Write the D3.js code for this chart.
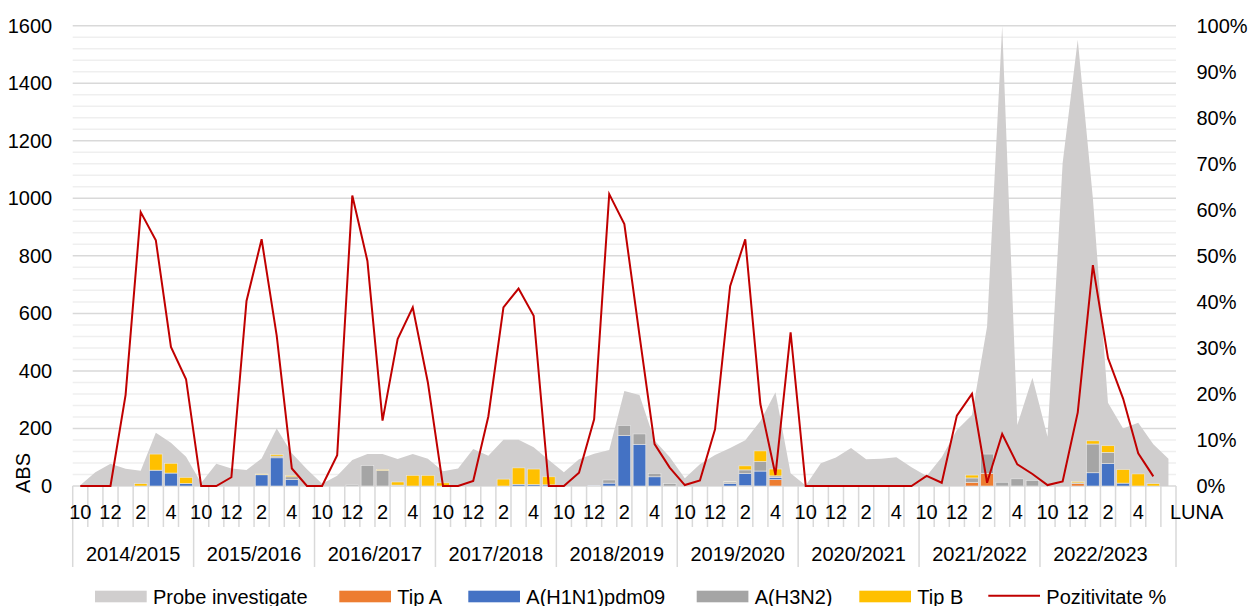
<!DOCTYPE html>
<html>
<head>
<meta charset="utf-8">
<script src="https://cdn.jsdelivr.net/npm/d3@7"></script>
<style>
body { margin: 0; background: #fff; }
svg text { font-family: 'Liberation Sans', Arial, sans-serif; font-size: 20px; fill: #000; }
</style>
</head>
<body>
<svg id="chart" width="1251" height="606"></svg>
<script>
'use strict';

var seasons = ['2014/2015', '2015/2016', '2016/2017', '2017/2018', '2018/2019',
    '2019/2020', '2020/2021', '2021/2022', '2022/2023'];
var monthLabels = ['10', '', '12', '', '2', '', '4', ''];
var lastLabel = 'LUNA';

// one value per month (10..5) for each season, plus one trailing column
var probe = [
    3, 48, 77, 60, 53, 185, 150, 102,
    10, 77, 61, 56, 96, 200, 114, 58,
    8, 36, 90, 111, 111, 94, 111, 95,
    51, 61, 129, 105, 161, 161, 135, 90,
    48, 93, 112, 125, 330, 316, 158, 101,
    27, 76, 108, 132, 159, 226, 326, 44,
    2, 79, 99, 132, 93, 95, 100, 65,
    35, 100, 195, 247, 554, 1600, 212, 376,
    171, 1123, 1551, 1000, 289, 200, 220, 145,
    95
];
var tipA = [
    0, 0, 0, 0, 0, 0, 0, 0,
    0, 0, 0, 0, 0, 0, 0, 0,
    0, 0, 0, 0, 0, 0, 0, 0,
    0, 0, 0, 0, 0, 0, 0, 0,
    0, 0, 0, 0, 0, 0, 0, 0,
    0, 0, 0, 0, 1, 0, 22, 0,
    0, 0, 0, 0, 0, 0, 0, 0,
    0, 0, 0, 13, 44, 0, 0, 0,
    0, 0, 8, 0, 0, 0, 0, 0
];
var h1n1 = [
    0, 0, 0, 0, 0, 55, 45, 9,
    0, 0, 0, 0, 39, 98, 23, 0,
    0, 0, 0, 0, 0, 0, 0, 0,
    0, 0, 0, 0, 0, 6, 5, 4,
    0, 0, 2, 10, 175, 145, 32, 0,
    0, 0, 0, 8, 42, 52, 8, 0,
    0, 0, 0, 0, 0, 0, 0, 0,
    0, 0, 0, 0, 0, 0, 0, 0,
    0, 0, 0, 46, 78, 10, 0, 0
];
var h3n2 = [
    0, 0, 0, 0, 0, 0, 0, 0,
    0, 0, 0, 0, 0, 6, 9, 0,
    0, 0, 4, 71, 54, 3, 0, 0,
    0, 0, 0, 0, 0, 0, 0, 0,
    0, 0, 0, 11, 35, 36, 12, 8,
    0, 0, 0, 6, 13, 33, 5, 0,
    0, 0, 0, 0, 0, 0, 0, 0,
    0, 0, 0, 15, 67, 13, 25, 19,
    0, 0, 3, 100, 39, 0, 0, 0
];
var tipB = [
    0, 0, 0, 0, 8, 56, 34, 21,
    0, 0, 0, 0, 3, 5, 4, 0,
    0, 0, 0, 0, 3, 11, 37, 37,
    11, 0, 0, 0, 24, 57, 54, 28,
    0, 0, 0, 0, 0, 0, 0, 0,
    0, 0, 0, 2, 14, 37, 24, 0,
    0, 0, 0, 0, 0, 0, 0, 0,
    0, 0, 0, 10, 0, 0, 0, 0,
    0, 0, 4, 11, 23, 47, 42, 8
];
// Pozitivitate %
var positivity = [
    0, 0, 0, 19.8, 59.5, 53.4, 30.2, 23.2,
    0, 0, 1.9, 40.2, 53.6, 32.6, 3.8, 0,
    0, 6.7, 63.1, 48.9, 14.2, 31.9, 38.8, 22.5,
    0, 0, 1.1, 15.1, 38.8, 42.9, 37, 0,
    0, 2.9, 14.5, 63.4, 56.9, 32.8, 9.1, 4,
    0.2, 1.2, 12.3, 43.4, 53.6, 17.8, 2.4, 33.4,
    0, 0, 0, 0, 0, 0, 0, 0,
    2.2, 0.7, 15.3, 20, 0.7, 11.3, 4.7, 2.6,
    0.2, 1, 16, 48, 27.8, 19, 7.1, 2.1
];

var seriesKeys = ['tipA', 'h1n1', 'h3n2', 'tipB'];
var seriesColors = {tipA: '#ed7d31', h1n1: '#4472c4', h3n2: '#a5a5a5', tipB: '#ffc000'};

var plot = {left: 72.7, right: 1176, top: 25.7, bottom: 486};
var svg = d3.select('#chart');

var n = probe.length;
var x = d3.scaleBand().domain(d3.range(n)).range([plot.left, plot.right]);
var yL = d3.scaleLinear().domain([0, 1600]).range([plot.bottom, plot.top]);
var yR = d3.scaleLinear().domain([0, 100]).range([plot.bottom, plot.top]);

function cx(i) { return x(i) + x.bandwidth() / 2; }

// gridlines
var grid = svg.append('g');
grid.selectAll('line.minor')
    .data(d3.range(0, 1601, 40).filter(function(v) { return v % 200; }))
    .enter().append('line')
    .attr('x1', plot.left).attr('x2', plot.right)
    .attr('y1', yL).attr('y2', yL)
    .attr('stroke', '#efefef').attr('stroke-width', 1.5);
grid.selectAll('line.major')
    .data(d3.range(0, 1601, 200))
    .enter().append('line')
    .attr('x1', plot.left).attr('x2', plot.right)
    .attr('y1', yL).attr('y2', yL)
    .attr('stroke', '#d9d9d9').attr('stroke-width', 1.5);

// x axis ticks (short per month, long per season)
var bounds = d3.range(n + 1).map(function(i) {
    return {pos: i < n ? x(i) : plot.right, long: (i % 8 === 0 && i < n - 1) || i === n};
});
svg.append('g').selectAll('line')
    .data(bounds)
    .enter().append('line')
    .attr('x1', function(d) { return d.pos; })
    .attr('x2', function(d) { return d.pos; })
    .attr('y1', plot.bottom)
    .attr('y2', function(d) { return d.long ? 567 : 527; })
    .attr('stroke', '#d9d9d9').attr('stroke-width', 1.5);

// Probe investigate
var area = d3.area()
    .x(function(d, i) { return cx(i); })
    .y0(yL(0))
    .y1(function(d) { return yL(d); });
svg.append('path')
    .datum(probe)
    .attr('d', area)
    .attr('fill', '#d0cece');

// stacked bars
var rows = d3.range(tipA.length).map(function(i) {
    return {i: i, tipA: tipA[i], h1n1: h1n1[i], h3n2: h3n2[i], tipB: tipB[i]};
});
var stacked = d3.stack().keys(seriesKeys)(rows);
var barW = x.bandwidth() * 0.84;

svg.append('g').selectAll('g')
    .data(stacked)
    .enter().append('g')
    .attr('fill', function(s) { return seriesColors[s.key]; })
    .selectAll('rect')
    .data(function(s) { return s.filter(function(d) { return d[1] > d[0]; }); })
    .enter().append('rect')
    .attr('x', function(d) { return cx(d.data.i) - barW / 2; })
    .attr('width', barW)
    .attr('y', function(d) { return yL(d[1]); })
    .attr('height', function(d) { return yL(d[0]) - yL(d[1]); })
    .attr('stroke', '#e8e8e8').attr('stroke-width', 0.6);

// Pozitivitate %
var line = d3.line()
    .x(function(d, i) { return cx(i); })
    .y(function(d) { return yR(d); });
svg.append('path')
    .datum(positivity)
    .attr('d', line)
    .attr('fill', 'none')
    .attr('stroke', '#c00000')
    .attr('stroke-width', 2)
    .attr('stroke-linejoin', 'miter');

// y axes
var leftAxis = svg.append('g')
    .attr('transform', 'translate(' + plot.left + ',0)')
    .call(d3.axisLeft(yL).tickValues(d3.range(0, 1601, 200)).tickSize(0).tickPadding(20.5)
        .tickFormat(d3.format('d')));
var rightAxis = svg.append('g')
    .attr('transform', 'translate(' + plot.right + ',0)')
    .call(d3.axisRight(yR).tickValues(d3.range(0, 101, 10)).tickSize(0).tickPadding(20.5)
        .tickFormat(function(d) { return d + '%'; }));
[leftAxis, rightAxis].forEach(function(ax) {
    ax.select('.domain').remove();
    ax.selectAll('text').attr('font-family', null).attr('font-size', null).attr('fill', '#000');
});

svg.append('text')
    .attr('transform', 'translate(29.5,473) rotate(-90)')
    .attr('text-anchor', 'middle')
    .text('ABS');

// month and season labels
svg.append('g').selectAll('text')
    .data(d3.range(n - 1).filter(function(i) { return monthLabels[i % 8]; }))
    .enter().append('text')
    .attr('x', cx)
    .attr('y', 519)
    .attr('text-anchor', 'middle')
    .text(function(i) { return monthLabels[i % 8]; });
svg.append('text')
    .attr('x', cx(n - 1) + 1.5)
    .attr('y', 519)
    .text(lastLabel);
svg.append('g').selectAll('text')
    .data(seasons)
    .enter().append('text')
    .attr('x', function(d, s) { return (x(s * 8) + x(s * 8 + 7) + x.bandwidth()) / 2; })
    .attr('y', 561)
    .attr('text-anchor', 'middle')
    .text(function(d) { return d; });

// legend
var legendItems = [
    {label: 'Probe investigate', color: '#d0cece', x: 95},
    {label: 'Tip A', color: seriesColors.tipA, x: 339.3},
    {label: 'A(H1N1)pdm09', color: seriesColors.h1n1, x: 468.3},
    {label: 'A(H3N2)', color: seriesColors.h3n2, x: 696.7},
    {label: 'Tip B', color: seriesColors.tipB, x: 859.3},
    {label: 'Pozitivitate %', color: '#c00000', x: 988.3, line: true}
];
var legend = svg.append('g').selectAll('g')
    .data(legendItems)
    .enter().append('g')
    .attr('transform', function(d) { return 'translate(' + d.x + ',0)'; });
legend.each(function(d) {
    var g = d3.select(this);
    if(d.line) {
        g.append('line').attr('x1', 0).attr('x2', 51.7).attr('y1', 595.7).attr('y2', 595.7)
            .attr('stroke', d.color).attr('stroke-width', 2);
    } else {
        g.append('rect').attr('x', 0).attr('y', 590.7).attr('width', 51.7).attr('height', 11.6)
            .attr('fill', d.color);
    }
    g.append('text').attr('x', 58).attr('y', 603.5).text(d.label);
});
</script>
</body>
</html>
